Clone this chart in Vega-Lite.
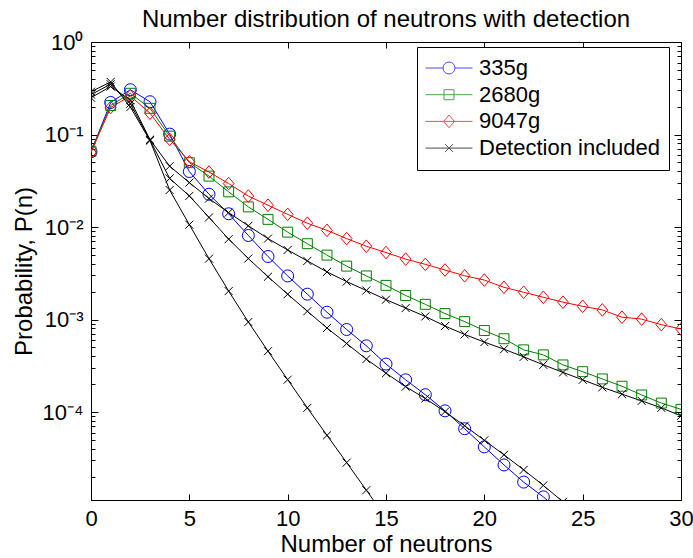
{
  "$schema": "https://vega.github.io/schema/vega-lite/v6.json",
  "width": 590,
  "height": 458,
  "autosize": "none",
  "padding": {"left": 91, "top": 42, "right": 12, "bottom": 58},
  "background": "white",
  "config": {"font": "Liberation Sans", "view": {"stroke": "black", "strokeWidth": 1}},
  "title": {"text": "Number distribution of neutrons with detection", "fontSize": 24, "fontWeight": "normal", "font": "Liberation Sans", "color": "black", "offset": -1, "anchor": "middle"},
  "data": {"values": [
    {"n":0,"p":0.065,"s":"335g","g":"b"},{"n":1,"p":0.222,"s":"335g","g":"b"},{"n":2,"p":0.305,"s":"335g","g":"b"},{"n":3,"p":0.226,"s":"335g","g":"b"},{"n":4,"p":0.101,"s":"335g","g":"b"},{"n":5,"p":0.0398,"s":"335g","g":"b"},{"n":6,"p":0.0226,"s":"335g","g":"b"},{"n":7,"p":0.0139,"s":"335g","g":"b"},{"n":8,"p":0.0081,"s":"335g","g":"b"},{"n":9,"p":0.0048,"s":"335g","g":"b"},{"n":10,"p":0.00296,"s":"335g","g":"b"},{"n":11,"p":0.00188,"s":"335g","g":"b"},{"n":12,"p":0.0012,"s":"335g","g":"b"},{"n":13,"p":0.00078,"s":"335g","g":"b"},{"n":14,"p":0.00052,"s":"335g","g":"b"},{"n":15,"p":0.00033,"s":"335g","g":"b"},{"n":16,"p":0.000223,"s":"335g","g":"b"},{"n":17,"p":0.000154,"s":"335g","g":"b"},{"n":18,"p":0.000103,"s":"335g","g":"b"},{"n":19,"p":0.000066,"s":"335g","g":"b"},{"n":20,"p":0.000042,"s":"335g","g":"b"},{"n":21,"p":0.0000268,"s":"335g","g":"b"},{"n":22,"p":0.0000175,"s":"335g","g":"b"},{"n":23,"p":0.0000121,"s":"335g","g":"b"},{"n":24,"p":0.000008,"s":"335g","g":"b"},
    {"n":0,"p":0.066,"s":"2680g","g":"gr"},{"n":1,"p":0.206,"s":"2680g","g":"gr"},{"n":2,"p":0.279,"s":"2680g","g":"gr"},{"n":3,"p":0.192,"s":"2680g","g":"gr"},{"n":4,"p":0.096,"s":"2680g","g":"gr"},{"n":5,"p":0.0496,"s":"2680g","g":"gr"},{"n":6,"p":0.0355,"s":"2680g","g":"gr"},{"n":7,"p":0.024,"s":"2680g","g":"gr"},{"n":8,"p":0.0165,"s":"2680g","g":"gr"},{"n":9,"p":0.0121,"s":"2680g","g":"gr"},{"n":10,"p":0.0088,"s":"2680g","g":"gr"},{"n":11,"p":0.0066,"s":"2680g","g":"gr"},{"n":12,"p":0.00497,"s":"2680g","g":"gr"},{"n":13,"p":0.00378,"s":"2680g","g":"gr"},{"n":14,"p":0.00296,"s":"2680g","g":"gr"},{"n":15,"p":0.00234,"s":"2680g","g":"gr"},{"n":16,"p":0.00182,"s":"2680g","g":"gr"},{"n":17,"p":0.00146,"s":"2680g","g":"gr"},{"n":18,"p":0.00116,"s":"2680g","g":"gr"},{"n":19,"p":0.00095,"s":"2680g","g":"gr"},{"n":20,"p":0.00076,"s":"2680g","g":"gr"},{"n":21,"p":0.00062,"s":"2680g","g":"gr"},{"n":22,"p":0.00047,"s":"2680g","g":"gr"},{"n":23,"p":0.000415,"s":"2680g","g":"gr"},{"n":24,"p":0.000323,"s":"2680g","g":"gr"},{"n":25,"p":0.000273,"s":"2680g","g":"gr"},{"n":26,"p":0.000228,"s":"2680g","g":"gr"},{"n":27,"p":0.00019,"s":"2680g","g":"gr"},{"n":28,"p":0.000153,"s":"2680g","g":"gr"},{"n":29,"p":0.000125,"s":"2680g","g":"gr"},{"n":30,"p":0.000107,"s":"2680g","g":"gr"},
    {"n":0,"p":0.064,"s":"9047g","g":"r"},{"n":1,"p":0.196,"s":"9047g","g":"r"},{"n":2,"p":0.261,"s":"9047g","g":"r"},{"n":3,"p":0.17,"s":"9047g","g":"r"},{"n":4,"p":0.0887,"s":"9047g","g":"r"},{"n":5,"p":0.0508,"s":"9047g","g":"r"},{"n":6,"p":0.0393,"s":"9047g","g":"r"},{"n":7,"p":0.0295,"s":"9047g","g":"r"},{"n":8,"p":0.0216,"s":"9047g","g":"r"},{"n":9,"p":0.0172,"s":"9047g","g":"r"},{"n":10,"p":0.0137,"s":"9047g","g":"r"},{"n":11,"p":0.011,"s":"9047g","g":"r"},{"n":12,"p":0.0092,"s":"9047g","g":"r"},{"n":13,"p":0.0075,"s":"9047g","g":"r"},{"n":14,"p":0.0062,"s":"9047g","g":"r"},{"n":15,"p":0.0053,"s":"9047g","g":"r"},{"n":16,"p":0.0045,"s":"9047g","g":"r"},{"n":17,"p":0.00395,"s":"9047g","g":"r"},{"n":18,"p":0.00343,"s":"9047g","g":"r"},{"n":19,"p":0.00297,"s":"9047g","g":"r"},{"n":20,"p":0.00267,"s":"9047g","g":"r"},{"n":21,"p":0.00223,"s":"9047g","g":"r"},{"n":22,"p":0.00197,"s":"9047g","g":"r"},{"n":23,"p":0.00174,"s":"9047g","g":"r"},{"n":24,"p":0.00154,"s":"9047g","g":"r"},{"n":25,"p":0.00139,"s":"9047g","g":"r"},{"n":26,"p":0.00127,"s":"9047g","g":"r"},{"n":27,"p":0.00106,"s":"9047g","g":"r"},{"n":28,"p":0.00101,"s":"9047g","g":"r"},{"n":29,"p":0.00088,"s":"9047g","g":"r"},{"n":30,"p":0.00079,"s":"9047g","g":"r"},
    {"n":0,"p":0.29,"s":"Detection included","g":"dA"},{"n":1,"p":0.37,"s":"Detection included","g":"dA"},{"n":2,"p":0.198,"s":"Detection included","g":"dA"},{"n":3,"p":0.086,"s":"Detection included","g":"dA"},{"n":4,"p":0.0251,"s":"Detection included","g":"dA"},{"n":5,"p":0.0106,"s":"Detection included","g":"dA"},{"n":6,"p":0.00455,"s":"Detection included","g":"dA"},{"n":7,"p":0.00203,"s":"Detection included","g":"dA"},{"n":8,"p":0.00094,"s":"Detection included","g":"dA"},{"n":9,"p":0.000455,"s":"Detection included","g":"dA"},{"n":10,"p":0.000224,"s":"Detection included","g":"dA"},{"n":11,"p":0.000111,"s":"Detection included","g":"dA"},{"n":12,"p":0.000056,"s":"Detection included","g":"dA"},{"n":13,"p":0.0000284,"s":"Detection included","g":"dA"},{"n":14,"p":0.0000143,"s":"Detection included","g":"dA"},{"n":15,"p":0.0000072,"s":"Detection included","g":"dA"},
    {"n":0,"p":0.27,"s":"Detection included","g":"dB"},{"n":1,"p":0.35,"s":"Detection included","g":"dB"},{"n":2,"p":0.215,"s":"Detection included","g":"dB"},{"n":3,"p":0.087,"s":"Detection included","g":"dB"},{"n":4,"p":0.0335,"s":"Detection included","g":"dB"},{"n":5,"p":0.0217,"s":"Detection included","g":"dB"},{"n":6,"p":0.0127,"s":"Detection included","g":"dB"},{"n":7,"p":0.0074,"s":"Detection included","g":"dB"},{"n":8,"p":0.00457,"s":"Detection included","g":"dB"},{"n":9,"p":0.0029,"s":"Detection included","g":"dB"},{"n":10,"p":0.00188,"s":"Detection included","g":"dB"},{"n":11,"p":0.00123,"s":"Detection included","g":"dB"},{"n":12,"p":0.00081,"s":"Detection included","g":"dB"},{"n":13,"p":0.00055,"s":"Detection included","g":"dB"},{"n":14,"p":0.000373,"s":"Detection included","g":"dB"},{"n":15,"p":0.000263,"s":"Detection included","g":"dB"},{"n":16,"p":0.000188,"s":"Detection included","g":"dB"},{"n":17,"p":0.00014,"s":"Detection included","g":"dB"},{"n":18,"p":0.000101,"s":"Detection included","g":"dB"},{"n":19,"p":0.000071,"s":"Detection included","g":"dB"},{"n":20,"p":0.0000495,"s":"Detection included","g":"dB"},{"n":21,"p":0.0000345,"s":"Detection included","g":"dB"},{"n":22,"p":0.0000237,"s":"Detection included","g":"dB"},{"n":23,"p":0.0000161,"s":"Detection included","g":"dB"},{"n":24,"p":0.0000107,"s":"Detection included","g":"dB"},{"n":25,"p":0.0000072,"s":"Detection included","g":"dB"},
    {"n":0,"p":0.25,"s":"Detection included","g":"dC"},{"n":1,"p":0.33,"s":"Detection included","g":"dC"},{"n":2,"p":0.235,"s":"Detection included","g":"dC"},{"n":3,"p":0.088,"s":"Detection included","g":"dC"},{"n":4,"p":0.0455,"s":"Detection included","g":"dC"},{"n":5,"p":0.0302,"s":"Detection included","g":"dC"},{"n":6,"p":0.0203,"s":"Detection included","g":"dC"},{"n":7,"p":0.0143,"s":"Detection included","g":"dC"},{"n":8,"p":0.0103,"s":"Detection included","g":"dC"},{"n":9,"p":0.0075,"s":"Detection included","g":"dC"},{"n":10,"p":0.00565,"s":"Detection included","g":"dC"},{"n":11,"p":0.0043,"s":"Detection included","g":"dC"},{"n":12,"p":0.00327,"s":"Detection included","g":"dC"},{"n":13,"p":0.00257,"s":"Detection included","g":"dC"},{"n":14,"p":0.00206,"s":"Detection included","g":"dC"},{"n":15,"p":0.00164,"s":"Detection included","g":"dC"},{"n":16,"p":0.00133,"s":"Detection included","g":"dC"},{"n":17,"p":0.00108,"s":"Detection included","g":"dC"},{"n":18,"p":0.00085,"s":"Detection included","g":"dC"},{"n":19,"p":0.00069,"s":"Detection included","g":"dC"},{"n":20,"p":0.00057,"s":"Detection included","g":"dC"},{"n":21,"p":0.000478,"s":"Detection included","g":"dC"},{"n":22,"p":0.000395,"s":"Detection included","g":"dC"},{"n":23,"p":0.000324,"s":"Detection included","g":"dC"},{"n":24,"p":0.000268,"s":"Detection included","g":"dC"},{"n":25,"p":0.000223,"s":"Detection included","g":"dC"},{"n":26,"p":0.000185,"s":"Detection included","g":"dC"},{"n":27,"p":0.000156,"s":"Detection included","g":"dC"},{"n":28,"p":0.000132,"s":"Detection included","g":"dC"},{"n":29,"p":0.000111,"s":"Detection included","g":"dC"},{"n":30,"p":0.000091,"s":"Detection included","g":"dC"}
  ]},
  "layer": [
    {
      "transform": [{"filter": "false"}],
      "mark": {"type": "point", "filled": false, "strokeWidth": 1},
      "encoding": {
        "color": {"field": "s", "type": "nominal", "scale": {"domain": ["335g","2680g","9047g","Detection included"], "range": ["#0000ff","#008000","#ff0000","#000000"]},
          "legend": {"orient": "none", "legendX": 326, "legendY": 5, "title": null, "symbolSize": 2209, "symbolStrokeWidth": 1, "labelFontSize": 22, "labelFont": "Liberation Sans", "labelColor": "black", "labelLimit": 400, "clipHeight": 26, "rowPadding": 0.7, "padding": 8, "strokeColor": "black", "fillColor": "white", "labelOffset": 6}},
        "shape": {"field": "s", "type": "nominal", "scale": {"domain": ["335g","2680g","9047g","Detection included"], "range": [
          "M-1,0H-0.255M0.255,0H1M0.255,0A0.255,0.255,0,1,1,-0.255,0A0.255,0.255,0,1,1,0.255,0",
          "M-1,0H1M-0.213,-0.213H0.213V0.213H-0.213Z",
          "M-1,0H1M0,-0.27L0.23,0L0,0.27L-0.23,0Z",
          "M-1,0H1M-0.17,-0.17L0.17,0.17M-0.17,0.17L0.17,-0.17"]}}
      }
    },
    {
      "mark": {"type": "line", "strokeWidth": 1, "clip": true},
      "encoding": {
        "x": {"field": "n", "type": "quantitative", "scale": {"domain": [0, 30], "nice": false, "zero": false},
          "axis": {"orient": "bottom", "values": [0,5,10,15,20,25,30], "title": "Number of neutrons", "titleFontSize": 24, "titleFont": "Liberation Sans", "titleFontWeight": "normal", "titleColor": "black", "titlePadding": 3, "labelFontSize": 22, "labelFont": "Liberation Sans", "labelColor": "black", "labelPadding": 14, "labelFlush": false, "labelOverlap": false, "labelBound": false, "tickSize": -6, "tickColor": "black", "domainColor": "black", "grid": false}},
        "y": {"field": "p", "type": "quantitative", "scale": {"type": "log", "domain": [0.0000112, 1], "nice": false},
          "axis": {"orient": "left", "values": [0.00002,0.00003,0.00004,0.00005,0.00006,0.00007,0.00008,0.00009,0.0001,0.0002,0.0003,0.0004,0.0005,0.0006,0.0007,0.0008,0.0009,0.001,0.002,0.003,0.004,0.005,0.006,0.007,0.008,0.009,0.01,0.02,0.03,0.04,0.05,0.06,0.07,0.08,0.09,0.1,0.2,0.3,0.4,0.5,0.6,0.7,0.8,0.9,1],
            "labelExpr": "datum.value == 1 ? '10⁰' : datum.value == 0.1 ? '10⁻¹' : datum.value == 0.01 ? '10⁻²' : datum.value == 0.001 ? '10⁻³' : datum.value == 0.0001 ? '10⁻⁴' : ''",
            "title": "Probability, P(n)", "titleFontSize": 24, "titleFont": "Liberation Sans", "titleFontWeight": "normal", "titleColor": "black", "titlePadding": 6, "labelFontSize": 22, "labelFont": "Liberation Sans", "labelColor": "black", "labelPadding": 15, "labelOverlap": false, "labelBound": false, "labelFlush": false,
            "tickSize": {"condition": {"test": "datum.value == 1 || datum.value == 0.1 || datum.value == 0.01 || datum.value == 0.001 || datum.value == 0.0001", "value": -7}, "value": -4},
            "tickColor": "black", "domainColor": "black", "grid": false}},
        "color": {"field": "s", "type": "nominal"},
        "detail": {"field": "g"}
      }
    },
    {
      "transform": [{"filter": "datum.s === '335g'"}],
      "mark": {"type": "point", "filled": false, "clip": true, "size": 144, "strokeWidth": 1, "opacity": 1, "shape": "circle"},
      "encoding": {
        "x": {"field": "n", "type": "quantitative", "axis": {"orient": "top", "values": [0,5,10,15,20,25,30], "labels": false, "title": null, "tickSize": -6, "tickColor": "black", "domainColor": "black", "grid": false}},
        "y": {"field": "p", "type": "quantitative", "axis": {"orient": "right", "values": [0.00002,0.00003,0.00004,0.00005,0.00006,0.00007,0.00008,0.00009,0.0001,0.0002,0.0003,0.0004,0.0005,0.0006,0.0007,0.0008,0.0009,0.001,0.002,0.003,0.004,0.005,0.006,0.007,0.008,0.009,0.01,0.02,0.03,0.04,0.05,0.06,0.07,0.08,0.09,0.1,0.2,0.3,0.4,0.5,0.6,0.7,0.8,0.9,1], "labels": false, "title": null,
            "tickSize": {"condition": {"test": "datum.value == 1 || datum.value == 0.1 || datum.value == 0.01 || datum.value == 0.001 || datum.value == 0.0001", "value": -7}, "value": -4},
            "tickColor": "black", "domainColor": "black", "grid": false}},
        "color": {"field": "s", "type": "nominal"}
      }
    },
    {
      "transform": [{"filter": "datum.s === '2680g'"}],
      "mark": {"type": "point", "filled": false, "clip": true, "size": 144, "strokeWidth": 1, "opacity": 1, "shape": "M-0.83,-0.83H0.83V0.83H-0.83Z"},
      "encoding": {
        "x": {"field": "n", "type": "quantitative", "axis": null},
        "y": {"field": "p", "type": "quantitative", "axis": null},
        "color": {"field": "s", "type": "nominal"}
      }
    },
    {
      "transform": [{"filter": "datum.s === '9047g'"}],
      "mark": {"type": "point", "filled": false, "clip": true, "size": 144, "strokeWidth": 1, "opacity": 1, "shape": "M0,-1.05L0.9,0L0,1.05L-0.9,0Z"},
      "encoding": {
        "x": {"field": "n", "type": "quantitative", "axis": null},
        "y": {"field": "p", "type": "quantitative", "axis": null},
        "color": {"field": "s", "type": "nominal"}
      }
    },
    {
      "transform": [{"filter": "datum.s === 'Detection included'"}],
      "mark": {"type": "point", "filled": false, "clip": true, "size": 144, "strokeWidth": 1, "opacity": 1, "shape": "M-0.67,-0.67L0.67,0.67M-0.67,0.67L0.67,-0.67"},
      "encoding": {
        "x": {"field": "n", "type": "quantitative", "axis": null},
        "y": {"field": "p", "type": "quantitative", "axis": null},
        "color": {"field": "s", "type": "nominal"}
      }
    }
  ],
  "resolve": {"axis": {"x": "independent", "y": "independent"}}
}
